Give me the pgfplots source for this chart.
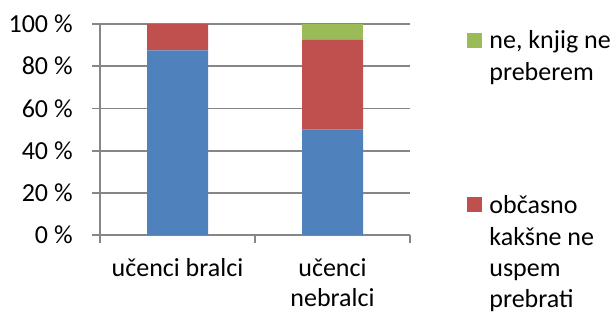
\documentclass[border=0pt]{standalone}
\usepackage{pgfplots}
\pgfplotsset{compat=1.18}
\usepackage{fontspec}
\setmainfont{Carlito}
\definecolor{cblue}{HTML}{4F81BD}
\definecolor{cred}{HTML}{C0504D}
\definecolor{cgreen}{HTML}{9BBB59}
\definecolor{cgrid}{HTML}{868686}
\newcommand{\lf}{\fontsize{13}{15.6}\selectfont}
\newcommand{\xf}{\fontsize{13}{15}\selectfont}
\begin{document}
\begin{tikzpicture}
\path[use as bounding box] (-50pt,-39pt) rectangle (257pt,117.5pt);
\begin{axis}[
  at={(0,0)}, anchor=south west,
  scale only axis, width=155pt, height=105.5pt,
  xmin=0, xmax=2, ymin=0, ymax=100,
  ybar stacked, bar width=30.5pt,
  axis x line*=bottom, axis y line*=left,
  axis line style={cgrid, line width=0.9pt},
  tick align=outside, major tick length=4pt,
  tick style={cgrid, line width=0.9pt},
  ymajorgrids, grid style={cgrid, line width=0.9pt},
  ytick={0,20,40,60,80,100},
  yticklabels={0~\%,20~\%,40~\%,60~\%,80~\%,100~\%},
  yticklabel style={font=\lf, inner sep=0pt, anchor=east, xshift=-9.5pt},
  xtick={0,1,2}, xticklabels={},
  extra x ticks={0.5,1.5},
  extra x tick labels={{\strut učenci bralci},{\strut učenci\\nebralci}},
  extra x tick style={major tick length=0pt, tick style={draw=none},
     xticklabel style={font=\xf, align=center, inner sep=0pt, anchor=north, yshift=-10.2pt}},
  /pgf/number format/assume math mode=true,
]
\addplot[fill=cblue, draw=none] coordinates {(0.5,87.5) (1.5,50)};
\addplot[fill=cred, draw=none] coordinates {(0.5,12.5) (1.5,42.5)};
\addplot[fill=cgreen, draw=none] coordinates {(0.5,0) (1.5,7.5)};
\end{axis}
\fill[cgreen] (183.5pt,93.35pt) rectangle (191pt,100.85pt);
\fill[cred] (183.5pt,11.65pt) rectangle (191pt,19.15pt);
\begin{scope}[every node/.style={anchor=base west, inner sep=0pt, font=\lf}]
\node at (194.5pt,93.5pt) {ne, knjig ne};
\node at (194.5pt,77.5pt) {preberem};
\node at (194.5pt,11pt) {občasno};
\node at (194.5pt,-5pt) {kakšne ne};
\node at (194.5pt,-20.5pt) {uspem};
\node at (194.5pt,-36pt) {prebrati};
\end{scope}
\end{tikzpicture}
\end{document}
